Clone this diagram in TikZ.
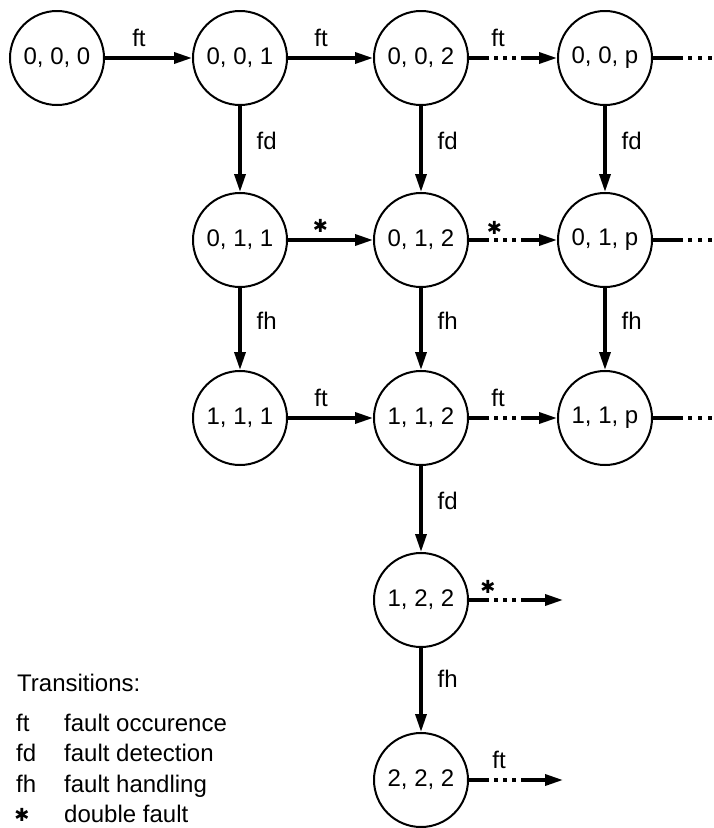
\documentclass[tikz,border=0pt]{standalone}
\usepackage{fontspec}
\setmainfont{Liberation Sans}
\newfontfamily\djv{DejaVu Sans}
\usetikzlibrary{arrows.meta}
\begin{document}
\begin{tikzpicture}[x=1pt,y=-1pt,
  state/.style={circle,draw,line width=2pt,minimum size=94pt,inner sep=0pt,font=\fontsize{24}{28}\selectfont},
  tr/.style={line width=3.4pt,-{Triangle[length=18pt,width=11pt]}},
  dotarr/.style={tr,dash pattern=on 20pt off 5pt on 4pt off 5pt on 4pt off 5pt on 4pt off 5pt on 300pt},
  tailline/.style={line width=3.4pt,dash pattern=on 30pt off 5pt on 4pt off 6pt on 4pt off 6pt on 4pt off 60pt},
  lbl/.style={font=\fontsize{24}{28}\selectfont,inner sep=0pt,anchor=base,yshift=12pt},
  vlbl/.style={font=\fontsize{24}{28}\selectfont,inner sep=0pt,anchor=base west,xshift=15pt},
  ast/.style={font=\djv\fontsize{18}{20}\selectfont,inner sep=0pt,yshift=14pt},
  legend/.style={font=\fontsize{24}{28}\selectfont,inner sep=0pt,anchor=base west}
]
\useasboundingbox (0,0) rectangle (713,828);

% states
\node[state] (n000) at (57,58)  {0, 0, 0};
\node[state] (n001) at (240,58) {0, 0, 1};
\node[state] (n002) at (421,58) {0, 0, 2};
\node[state] (n00p) at (605,58) {0, 0, p};
\node[state] (n011) at (240,240) {0, 1, 1};
\node[state] (n012) at (421,240) {0, 1, 2};
\node[state] (n01p) at (605,240) {0, 1, p};
\node[state] (n111) at (240,418) {1, 1, 1};
\node[state] (n112) at (421,418) {1, 1, 2};
\node[state] (n11p) at (605,418) {1, 1, p};
\node[state] (n122) at (421,600) {1, 2, 2};
\node[state] (n222) at (421,780) {2, 2, 2};

% free ends
\coordinate (e1) at (713,58);
\coordinate (e2) at (713,240);
\coordinate (e3) at (713,418);
\coordinate (f1) at (563,600);
\coordinate (f2) at (563,780);

% row 1
\draw[tr] (n000) -- node[lbl,pos=0.39]{ft} (n001);
\draw[tr] (n001) -- node[lbl,pos=0.39]{ft} (n002);
\draw[dotarr] (n002) -- node[lbl,pos=0.33]{ft} (n00p);
\draw[tailline] (n00p) -- (e1);

% row 2
\draw[tr] (n011) -- node[ast,pos=0.38]{✱} (n012);
\draw[dotarr] (n012) -- node[ast,pos=0.29,yshift=-2pt]{✱} (n01p);
\draw[tailline] (n01p) -- (e2);

% row 3
\draw[tr] (n111) -- node[lbl,pos=0.39]{ft} (n112);
\draw[dotarr] (n112) -- node[lbl,pos=0.33]{ft} (n11p);
\draw[tailline] (n11p) -- (e3);

% verticals
\draw[tr] (n001) -- node[vlbl,pos=0.5]{fd} (n011);
\draw[tr] (n002) -- node[vlbl,pos=0.5]{fd} (n012);
\draw[tr] (n00p) -- node[vlbl,pos=0.5]{fd} (n01p);
\draw[tr] (n011) -- node[vlbl,pos=0.5]{fh} (n111);
\draw[tr] (n012) -- node[vlbl,pos=0.5]{fh} (n112);
\draw[tr] (n01p) -- node[vlbl,pos=0.5]{fh} (n11p);
\draw[tr] (n112) -- node[vlbl,pos=0.5]{fd} (n122);
\draw[tr] (n122) -- node[vlbl,pos=0.47]{fh} (n222);

% lower free arrows
\draw[dotarr] (n122) -- node[ast,pos=0.2,yshift=-1pt]{✱} (f1);
\draw[dotarr] (n222) -- node[lbl,pos=0.32]{ft} (f2);

% legend
\node[legend] (lt) at (17,691) {Transitions:};
\node[legend] (l1a) at (16,731) {ft};
\node[legend] (l1b) at (64,731) {fault occurence};
\node[legend] (l2a) at (16,761) {fd};
\node[legend] (l2b) at (64,761) {fault detection};
\node[legend] (l3a) at (16,792) {fh};
\node[legend] (l3b) at (64,792) {fault handling};
\node[font=\djv\fontsize{18}{20}\selectfont,inner sep=0pt] (l4a) at (22,815) {✱};
\node[legend] (l4b) at (64,822) {double fault};
\end{tikzpicture}
\end{document}
